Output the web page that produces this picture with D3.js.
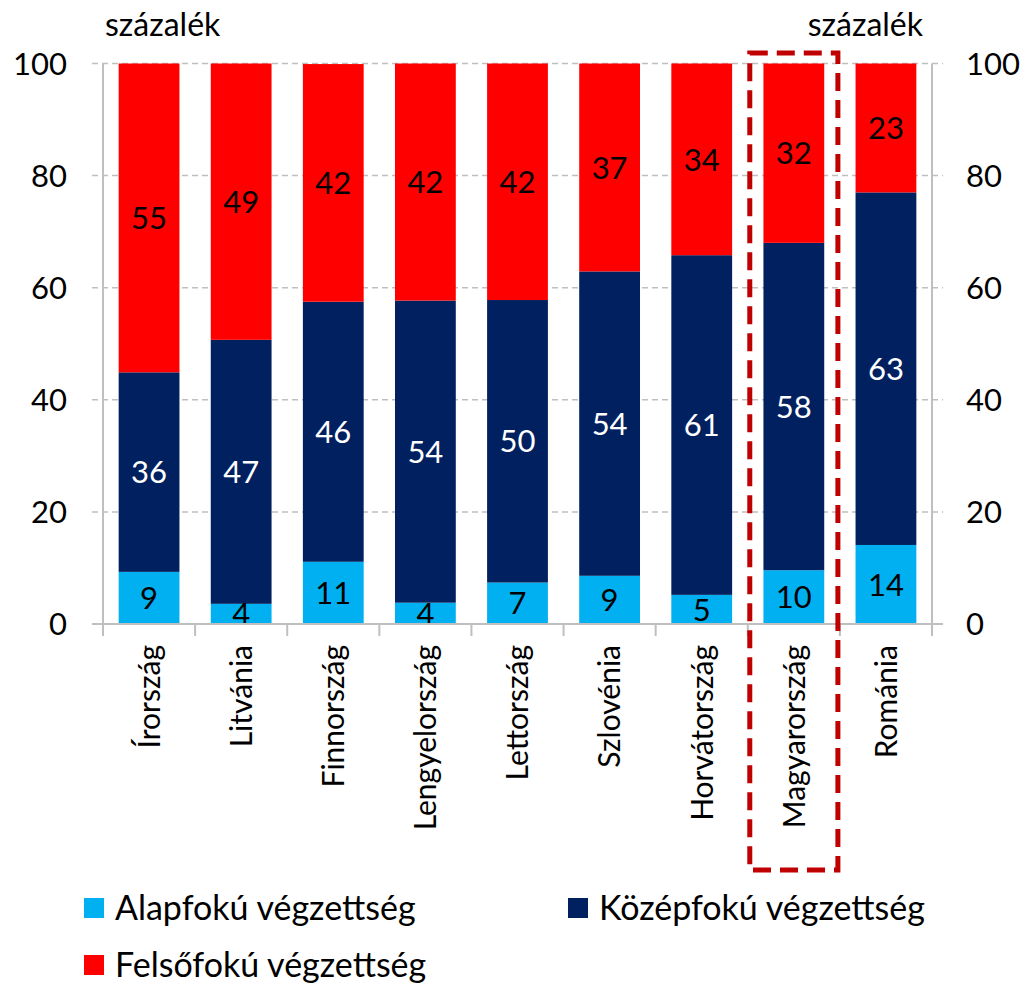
<!DOCTYPE html>
<html>
<head>
<meta charset="utf-8">
<script src="https://cdn.jsdelivr.net/npm/d3@7"></script>
<style>
  body { margin: 0; background: #fff; }
  svg text { font-family: Lato, "Open Sans", sans-serif; }
</style>
</head>
<body>
<svg id="chart" width="1025" height="983"></svg>
<script>
// countries, left to right
var countries = ["Írország", "Litvánia", "Finnország", "Lengyelország", "Lettország",
                 "Szlovénia", "Horvátország", "Magyarország", "Románia"];
// shares, percent
var alapfoku  = [9.3, 3.6, 11.1, 3.8, 7.4, 8.6, 5.2, 9.6, 14.1];
var kozepfoku = [35.6, 47.1, 46.4, 53.9, 50.4, 54.3, 60.6, 58.4, 62.9];
var felsofoku = [55.1, 49.3, 42.4, 42.3, 42.2, 37.1, 34.2, 32.0, 23.0];
var seriesNames = ["Alapfokú végzettség", "Középfokú végzettség", "Felsőfokú végzettség"];
var seriesColors = ["#00b0f0", "#002060", "#ff0000"];
var labelColors = ["#000", "#fff", "#000"];
var yTicks = [0, 20, 40, 60, 80, 100];
var highlighted = "Magyarország";

var svg = d3.select("#chart");
var plotLeft = 103, plotRight = 932, plotTop = 63.5, plotBottom = 624;

var x = d3.scaleBand().domain(countries).range([plotLeft, plotRight])
    .paddingInner(0.34).paddingOuter(0.17);
var y = d3.scaleLinear().domain([0, 100]).range([plotBottom, plotTop]);

// gridlines (dashed, with the outside tick stubs)
svg.append("g").selectAll("line")
    .data(yTicks.slice(1))
    .enter().append("line")
    .attr("x1", plotLeft - 11).attr("x2", plotRight + 11)
    .attr("y1", function(d) { return y(d); })
    .attr("y2", function(d) { return y(d); })
    .attr("stroke", "#bfbfbf").attr("stroke-width", 1.5)
    .attr("stroke-dasharray", "6,4");

// stacked bars
var rows = countries.map(function(c, i) {
    return {country: c, a: alapfoku[i], k: kozepfoku[i], f: felsofoku[i]};
});
var stack = d3.stack().keys(["a", "k", "f"])(rows);

var layers = svg.append("g").selectAll("g")
    .data(stack)
    .enter().append("g")
    .attr("fill", function(d, i) { return seriesColors[i]; });

layers.selectAll("rect")
    .data(function(d) { return d; })
    .enter().append("rect")
    .attr("x", function(d) { return x(d.data.country); })
    .attr("width", x.bandwidth())
    .attr("y", function(d) { return y(Math.min(d[1], 100)); })
    .attr("height", function(d) { return y(d[0]) - y(Math.min(d[1], 100)); });

// value labels
stack.forEach(function(layer, li) {
    svg.append("g").selectAll("text")
        .data(layer)
        .enter().append("text")
        .attr("x", function(d) { return x(d.data.country) + x.bandwidth() / 2; })
        .attr("y", function(d) { return (y(d[0]) + y(Math.min(d[1], 100))) / 2; })
        .attr("dy", "0.36em")
        .attr("text-anchor", "middle")
        .attr("font-size", 31)
        .attr("fill", labelColors[li])
        .text(function(d) { return Math.round(d[1] - d[0]); });
});

// axes
var axisColor = "#bfbfbf";
svg.append("line").attr("x1", plotLeft).attr("x2", plotLeft).attr("y1", plotTop).attr("y2", plotBottom)
    .attr("stroke", axisColor).attr("stroke-width", 2);
svg.append("line").attr("x1", plotRight).attr("x2", plotRight).attr("y1", plotTop).attr("y2", plotBottom)
    .attr("stroke", axisColor).attr("stroke-width", 2);
svg.append("line").attr("x1", plotLeft - 11).attr("x2", plotRight + 11).attr("y1", plotBottom).attr("y2", plotBottom)
    .attr("stroke", axisColor).attr("stroke-width", 2);

// category separators below the axis
var edges = countries.map(function(c) { return x(c) - x.step() * x.paddingOuter(); });
edges.push(plotRight);
svg.append("g").selectAll("line")
    .data(edges)
    .enter().append("line")
    .attr("x1", function(d) { return d; }).attr("x2", function(d) { return d; })
    .attr("y1", plotBottom).attr("y2", plotBottom + 12)
    .attr("stroke", axisColor).attr("stroke-width", 2);

// y tick labels both sides
svg.append("g").selectAll("text")
    .data(yTicks)
    .enter().append("text")
    .attr("x", 67).attr("y", function(d) { return y(d); })
    .attr("dy", "0.36em").attr("text-anchor", "end")
    .attr("font-size", 31).text(function(d) { return d; });
svg.append("g").selectAll("text")
    .data(yTicks)
    .enter().append("text")
    .attr("x", 966).attr("y", function(d) { return y(d); })
    .attr("dy", "0.36em").attr("text-anchor", "start")
    .attr("font-size", 31).text(function(d) { return d; });

svg.append("text").attr("x", 105).attr("y", 36).attr("font-size", 32).text("százalék");
svg.append("text").attr("x", 923).attr("y", 36).attr("font-size", 32)
    .attr("text-anchor", "end").text("százalék");

// category labels, rotated
svg.append("g").selectAll("text")
    .data(countries)
    .enter().append("text")
    .attr("transform", function(d) {
        return "translate(" + (x(d) + x.bandwidth() / 2) + "," + 645 + ") rotate(-90)";
    })
    .attr("dy", "0.36em")
    .attr("text-anchor", "end")
    .attr("font-size", 30)
    .text(function(d) { return d; });

// red dashed highlight box
var hx = x(highlighted) - x.step() * x.paddingOuter();
svg.append("rect")
    .attr("x", hx + 2).attr("y", 53)
    .attr("width", x.step() - 4).attr("height", 817)
    .attr("fill", "none")
    .attr("stroke", "#c00000").attr("stroke-width", 5)
    .attr("stroke-dasharray", "18,9");

// legend
var legendPos = [[84, 908], [568, 908], [84, 965]];
var legend = svg.append("g").selectAll("g")
    .data(seriesNames)
    .enter().append("g")
    .attr("transform", function(d, i) { return "translate(" + legendPos[i][0] + "," + legendPos[i][1] + ")"; });
legend.append("rect")
    .attr("x", 0).attr("y", -10).attr("width", 20).attr("height", 20)
    .attr("fill", function(d, i) { return seriesColors[i]; });
legend.append("text")
    .attr("x", 31).attr("y", 0).attr("dy", "0.34em")
    .attr("font-size", 34)
    .text(function(d) { return d; });
</script>
</body>
</html>
